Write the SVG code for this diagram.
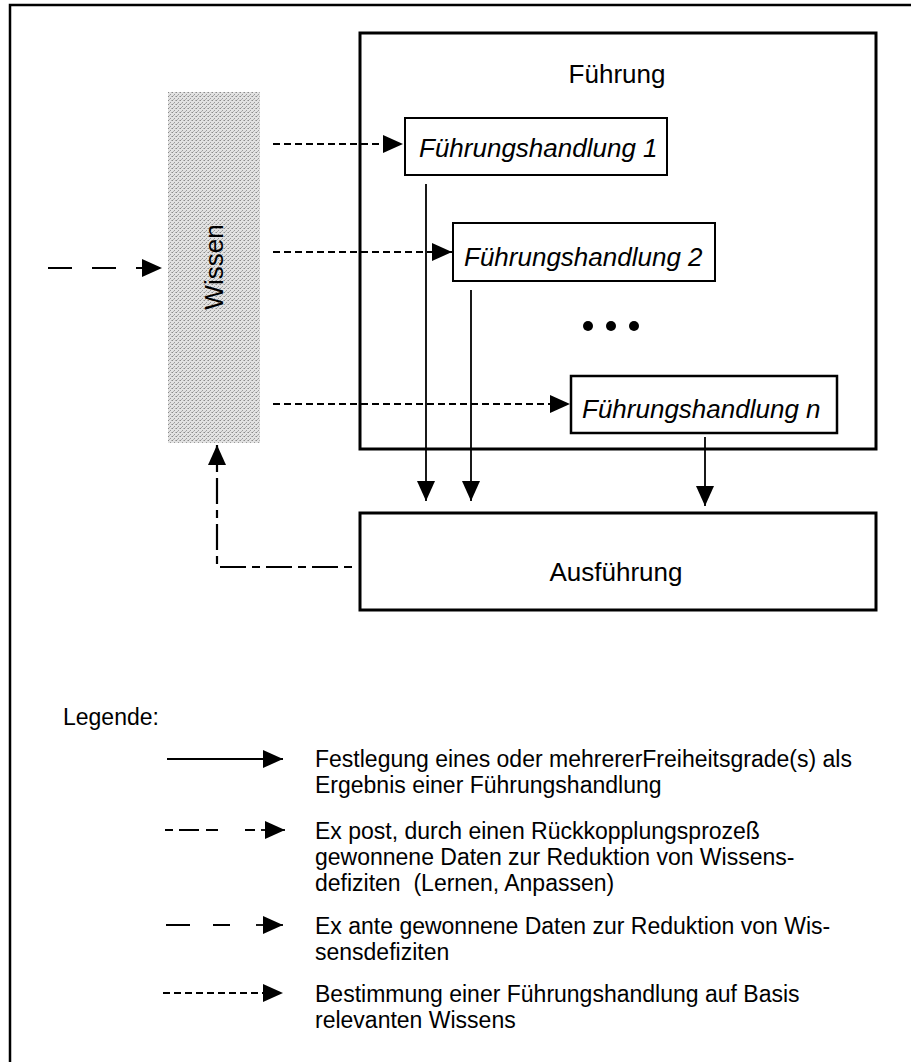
<svg xmlns="http://www.w3.org/2000/svg" width="911" height="1062" viewBox="0 0 911 1062">
<style>
text{font-family:"Liberation Sans",Arial,sans-serif;fill:#000}
.lbl{font-size:26px}
.it{font-size:26px;font-style:italic}
.leg{font-size:23px}
.box{fill:#fff;stroke:#000}
.solid{fill:none;stroke:#000;stroke-width:1.8}
.dot{fill:none;stroke:#000;stroke-width:2.2;stroke-dasharray:7 4}
.long{fill:none;stroke:#000;stroke-width:2.2;stroke-dasharray:24 20}
.fb{fill:none;stroke:#000;stroke-width:2.2;stroke-dasharray:8 6 26 6}
</style>
<defs>
<marker id="ah" viewBox="0 0 20 18" markerWidth="20" markerHeight="18" refX="20" refY="9" orient="auto" markerUnits="userSpaceOnUse">
<path d="M0,0 L20,9 L0,18 z" fill="#000"/>
</marker>
<pattern id="stip" width="4" height="4" patternUnits="userSpaceOnUse">
<rect width="4" height="4" fill="#e2e2e2"/>
<rect x="0" y="0" width="1" height="1" fill="#8a8a8a"/>
<rect x="2" y="2" width="1" height="1" fill="#9a9a9a"/>
<rect x="3" y="0" width="1" height="1" fill="#b5b5b5"/>
<rect x="1" y="3" width="1" height="1" fill="#b0b0b0"/>
</pattern>
</defs>
<rect width="911" height="1062" fill="#fff"/>
<path d="M10,1062 V5 H911" fill="none" stroke="#000" stroke-width="2.5"/>

<g id="fuehrung">
<rect class="box" x="360" y="33" width="516" height="416" stroke-width="3"/>
<text class="lbl" x="617" y="83" text-anchor="middle">Führung</text>
</g>
<g id="wissen">
<rect x="168" y="92" width="92" height="351" fill="url(#stip)"/>
<text class="lbl" transform="translate(223,267) rotate(-90)" text-anchor="middle">Wissen</text>
</g>
<g id="fh1">
<rect class="box" x="405" y="118" width="262" height="57" stroke-width="2"/>
<text class="it" x="419" y="157">Führungshandlung 1</text>
</g>
<g id="fh2">
<rect class="box" x="453" y="223" width="262" height="58" stroke-width="2"/>
<text class="it" x="464" y="266">Führungshandlung 2</text>
</g>
<g id="ellipsis">
<circle cx="588" cy="326" r="5"/>
<circle cx="611" cy="326" r="5"/>
<circle cx="634" cy="326" r="5"/>
</g>
<g id="fhn">
<rect class="box" x="571" y="376" width="266" height="57" stroke-width="2.5"/>
<text class="it" x="582" y="418">Führungshandlung n</text>
</g>
<g id="ausfuehrung">
<rect class="box" x="360" y="513" width="516" height="97" stroke-width="3"/>
<text class="lbl" x="616" y="581" text-anchor="middle">Ausführung</text>
</g>

<g id="connectors">
<path class="long" d="M48,268 H162" marker-end="url(#ah)"/>
<path class="dot" d="M273,144 H403" marker-end="url(#ah)"/>
<path class="dot" d="M273,252 H452" marker-end="url(#ah)"/>
<path class="dot" d="M273,404 H570" marker-end="url(#ah)"/>
<path class="solid" d="M426,184 V501" marker-end="url(#ah)"/>
<path class="solid" d="M471,290 V501" marker-end="url(#ah)"/>
<path class="solid" d="M705,437 V506" marker-end="url(#ah)"/>
<path class="fb" d="M352,567 H217 V445" marker-end="url(#ah)"/>
</g>

<g id="legend">
<text class="leg" x="63" y="725">Legende:</text>
<path class="solid" d="M167,759 H283" marker-end="url(#ah)"/>
<text class="leg" x="315" y="767">Festlegung eines oder mehrererFreiheitsgrade(s) als<tspan x="315" dy="26">Ergebnis einer Führungshandlung</tspan></text>
<path d="M165,830 H173 M179,830 H199 M206,830 H218 M245,830 H255" fill="none" stroke="#000" stroke-width="2.2"/>
<path class="solid" d="M261,830 H285" stroke-width="2.2" marker-end="url(#ah)"/>
<text class="leg" x="315" y="839" xml:space="preserve">Ex post, durch einen Rückkopplungsprozeß<tspan x="315" dy="26">gewonnene Daten zur Reduktion von Wissens-</tspan><tspan x="315" dy="26">defiziten  (Lernen, Anpassen)</tspan></text>
<path class="solid" d="M166,925 H190 M213,925 H230" stroke-width="2"/>
<path class="solid" d="M256,925 H283" stroke-width="2" marker-end="url(#ah)"/>
<text class="leg" x="315" y="934">Ex ante gewonnene Daten zur Reduktion von Wis-<tspan x="315" dy="26">sensdefiziten</tspan></text>
<path class="dot" d="M163,993 H283" marker-end="url(#ah)"/>
<text class="leg" x="315" y="1002">Bestimmung einer Führungshandlung auf Basis<tspan x="315" dy="26">relevanten Wissens</tspan></text>
</g>
</svg>
